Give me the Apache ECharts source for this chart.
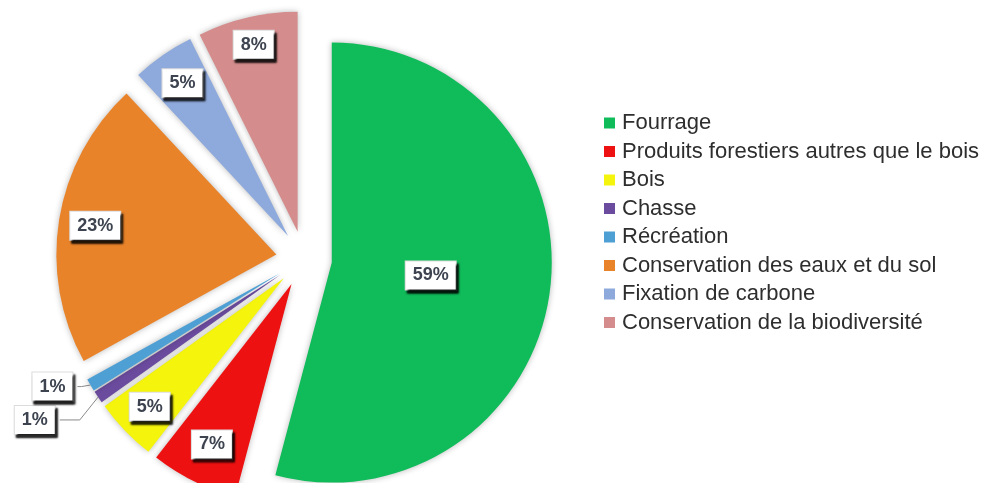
<!DOCTYPE html>
<html>
<head>
<meta charset="utf-8">
<script src="https://cdn.jsdelivr.net/npm/echarts@6/dist/echarts.min.js"></script>
<style>
  html, body { margin: 0; padding: 0; background: #ffffff; }
  #chart { width: 998px; height: 483px; }
</style>
</head>
<body>
<div id="chart"></div>
<script>
// Répartition des services rendus par la forêt (valeurs en %)
const categories = [
  'Fourrage',
  'Produits forestiers autres que le bois',
  'Bois',
  'Chasse',
  'Récréation',
  'Conservation des eaux et du sol',
  'Fixation de carbone',
  'Conservation de la biodiversité'
];
const values = [59, 7, 5, 1, 1, 23, 5, 8];

// Slice colours, in category order
const sliceColors = ['#10bb5a', '#ee1111', '#f4f40c', '#6b4b9e', '#4e9fd3', '#e8832a', '#8ea9db', '#d48c8c'];
// Where each inside label sits along its slice (fraction of the radius); null = outside label
const labelRadius = [0.44, 0.8, 0.83, null, null, 0.82, 0.83, 0.86];
// Leader line lengths for the outside labels [radial, horizontal]
const leaderLengths = { 3: [22, 20], 4: [3, 4] };

const chart = echarts.init(document.getElementById('chart'), null, { renderer: 'canvas' });

const pieData = categories.map((name, i) => {
  const outside = labelRadius[i] == null;
  const item = {
    name: name,
    value: values[i],
    selected: true,
    itemStyle: { color: sliceColors[i] },
    label: { position: outside ? 'outside' : 'inside' },
    labelLine: { show: outside }
  };
  if (outside && leaderLengths[i]) {
    item.labelLine.length = leaderLengths[i][0];
    item.labelLine.length2 = leaderLengths[i][1];
  }
  return item;
});

function sliceLayout(idx) {
  try {
    return chart.getModel().getSeriesByIndex(0).getData().getItemLayout(idx);
  } catch (e) {
    return null;
  }
}

chart.setOption({
  animation: false,
  legend: {
    orient: 'vertical',
    left: 604,
    top: 112,
    padding: 0,
    itemWidth: 11,
    itemHeight: 11,
    itemGap: 6.5,
    icon: 'rect',
    selectedMode: false,
    textStyle: {
      fontFamily: 'Liberation Sans, Arial, sans-serif',
      fontSize: 22,
      lineHeight: 22,
      color: '#2e2e2e',
      padding: [0, 0, 0, 2]
    },
    data: categories
  },
  series: [{
    type: 'pie',
    center: [304, 259],
    radius: 220,
    startAngle: 90,
    clockwise: true,
    selectedMode: 'multiple',
    selectedOffset: 28,
    avoidLabelOverlap: true,
    emphasis: { disabled: true },
    itemStyle: {
      borderWidth: 0,
      shadowBlur: 6,
      shadowColor: 'rgba(0,0,0,0.28)'
    },
    label: {
      formatter: '{c}%',
      fontFamily: 'Liberation Sans, Arial, sans-serif',
      fontSize: 18,
      fontWeight: 'bold',
      lineHeight: 20,
      color: '#3d4450',
      backgroundColor: '#ffffff',
      borderColor: '#dcdcdc',
      borderWidth: 1,
      padding: [4, 7],
      shadowColor: 'rgba(0,0,0,0.85)',
      shadowBlur: 2,
      shadowOffsetX: 2,
      shadowOffsetY: 3
    },
    labelLine: {
      length: 6,
      length2: 10,
      lineStyle: { color: '#8a8a8a', width: 1 }
    },
    labelLayout: function (params) {
      const f = labelRadius[params.dataIndex];
      if (f == null) return {};
      const lay = sliceLayout(params.dataIndex);
      if (!lay) return {};
      const mid = (lay.startAngle + lay.endAngle) / 2;
      const shift = (f - 0.5) * lay.r;
      return { dx: shift * Math.cos(mid), dy: shift * Math.sin(mid) };
    },
    data: pieData
  }]
});
</script>
</body>
</html>
